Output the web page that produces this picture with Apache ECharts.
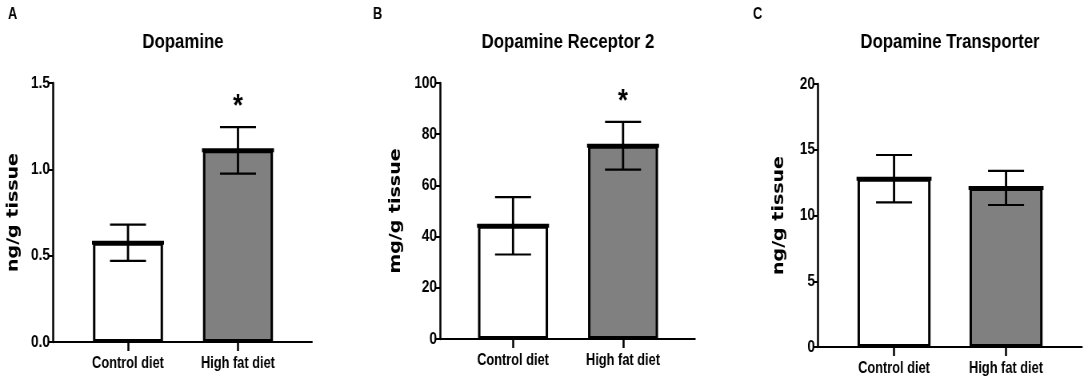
<!DOCTYPE html>
<html>
<head>
<meta charset="utf-8">
<script src="https://cdn.jsdelivr.net/npm/echarts@6/dist/echarts.min.js"></script>
<style>
  html, body { margin: 0; padding: 0; background: #fff; overflow: hidden; }
  /* the original figure is squeezed sideways: draw wider, then squeeze */
  #main { width: 1355px; height: 385px; transform: scaleX(0.8); transform-origin: 0 0; }
</style>
</head>
<body>
<div id="main"></div>
<script>
// groups on the x axis
var groups = ['Control diet', 'High fat diet'];
var groupPos = [1, 2];
var fills = ['#ffffff', '#808080'];

// A - dopamine (ng/g tissue)
var daMean = [0.575, 1.11];
var daErr = [0.105, 0.135];
var daStars = ['', '*'];

// B - dopamine receptor 2 (mg/g tissue)
var d2Mean = [44.2, 75.5];
var d2Err = [11.2, 9.3];
var d2Stars = ['', '*'];

// C - dopamine transporter (ng/g tissue)
var datMean = [12.8, 12.1];
var datErr = [1.8, 1.3];
var datStars = ['', ''];

var SX = 0.8;   // horizontal squeeze, must match the css above
function sx(v) { return v / SX; }

var arial = "'Liberation Sans', Arial, sans-serif";
var wide = "'DejaVu Sans', Verdana, sans-serif";

var panels = [
  { letter: 'A', title: 'Dopamine', yName: 'ng/g tissue', max: 1.5, step: 0.5, digits: 1,
    mean: daMean, err: daErr, stars: daStars,
    grid: { left: 53, top: 83, width: 259, height: 259 }, xMin: 0.318, xMax: 2.673, barW: 70,
    letterX: 8, titleX: 183, nameGap: 32 },
  { letter: 'B', title: 'Dopamine Receptor 2', yName: 'mg/g tissue', max: 100, step: 20, digits: 0,
    mean: d2Mean, err: d2Err, stars: d2Stars,
    grid: { left: 440, top: 83, width: 255, height: 256 }, xMin: 0.336, xMax: 2.654, barW: 70,
    letterX: 373, titleX: 568, nameGap: 36 },
  { letter: 'C', title: 'Dopamine Transporter', yName: 'ng/g tissue', max: 20, step: 5, digits: 0,
    mean: datMean, err: datErr, stars: datStars,
    grid: { left: 818, top: 84, width: 264, height: 263 }, xMin: 0.321, xMax: 2.678, barW: 73,
    letterX: 753, titleX: 950, nameGap: 31 }
];

var chart = echarts.init(document.getElementById('main'));

var option = {
  backgroundColor: '#fff',
  animation: false,
  title: [],
  grid: [],
  xAxis: [],
  yAxis: [],
  series: []
};

panels.forEach(function (p, k) {
  option.title.push({
    text: p.letter, left: sx(p.letterX), top: 7, padding: 0,
    textStyle: { fontFamily: arial, fontWeight: 'bold', fontSize: 16, color: '#000' }
  });
  option.title.push({
    text: p.title, left: sx(p.titleX), top: 32, padding: 0, textAlign: 'center',
    textStyle: { fontFamily: arial, fontWeight: 'bold', fontSize: 21, color: '#000' }
  });

  option.grid.push({
    left: sx(p.grid.left), top: p.grid.top,
    width: sx(p.grid.width), height: p.grid.height
  });
  option.xAxis.push({
    type: 'value', gridIndex: k, min: p.xMin, max: p.xMax,
    splitLine: { show: false },
    axisLine: { show: true, lineStyle: { color: '#000', width: 2 } },
    axisTick: { show: true, customValues: groupPos, length: 9, lineStyle: { color: '#000', width: 2.5 } },
    axisLabel: {
      customValues: groupPos, margin: 14,
      fontFamily: arial, fontWeight: 'bold', fontSize: 16, color: '#000',
      formatter: function (v) { return groups[Math.round(v) - 1] || ''; }
    }
  });
  option.yAxis.push({
    type: 'value', gridIndex: k, min: 0, max: p.max, interval: p.step,
    name: p.yName, nameLocation: 'middle', nameGap: sx(p.nameGap),
    nameTextStyle: { fontFamily: wide, fontWeight: 'bold', fontSize: 19, color: '#000' },
    splitLine: { show: false },
    axisLine: { show: true, lineStyle: { color: '#000', width: 2.5 } },
    axisTick: { show: true, length: sx(5), lineStyle: { color: '#000', width: 2 } },
    axisLabel: {
      margin: sx(3), fontFamily: arial, fontWeight: 'bold', fontSize: 17, color: '#000',
      formatter: function (v) { return v.toFixed(p.digits); }
    }
  });

  option.series.push({
    type: 'bar', xAxisIndex: k, yAxisIndex: k, barWidth: sx(p.barW),
    data: groupPos.map(function (x, i) {
      return { value: [x, p.mean[i]], itemStyle: { color: fills[i] } };
    }),
    itemStyle: { borderColor: '#000', borderWidth: 3 }
  });

  // error bars (mean +/- SEM), thick mean line and significance star
  option.series.push({
    type: 'custom', xAxisIndex: k, yAxisIndex: k,
    encode: { x: 0, y: [1, 2, 3] },
    data: groupPos.map(function (x, i) {
      return [x, p.mean[i], p.mean[i] - p.err[i], p.mean[i] + p.err[i]];
    }),
    renderItem: function (params, api) {
      var x = api.value(0);
      var pm = api.coord([x, api.value(1)]);
      var pl = api.coord([x, api.value(2)]);
      var ph = api.coord([x, api.value(3)]);
      var hb = sx(p.barW / 2 + 1), hc = sx(18);
      var cap = { stroke: '#000', lineWidth: 2.2 };
      var kids = [
        { type: 'line', shape: { x1: pm[0] - hb, y1: pm[1], x2: pm[0] + hb, y2: pm[1] }, style: { stroke: '#000', lineWidth: 4 } },
        { type: 'line', shape: { x1: pl[0], y1: pl[1], x2: ph[0], y2: ph[1] }, style: { stroke: '#000', lineWidth: 2.8 } },
        { type: 'line', shape: { x1: pl[0] - hc, y1: pl[1], x2: pl[0] + hc, y2: pl[1] }, style: cap },
        { type: 'line', shape: { x1: ph[0] - hc, y1: ph[1], x2: ph[0] + hc, y2: ph[1] }, style: cap }
      ];
      var star = p.stars[params.dataIndex];
      if (star) {
        kids.push({ type: 'text', x: ph[0], y: ph[1] - 20,
          style: { text: star, font: 'bold 32px ' + arial, fill: '#000', align: 'center', verticalAlign: 'middle' } });
      }
      return { type: 'group', children: kids };
    },
    z: 3
  });
});

chart.setOption(option);
</script>
</body>
</html>
